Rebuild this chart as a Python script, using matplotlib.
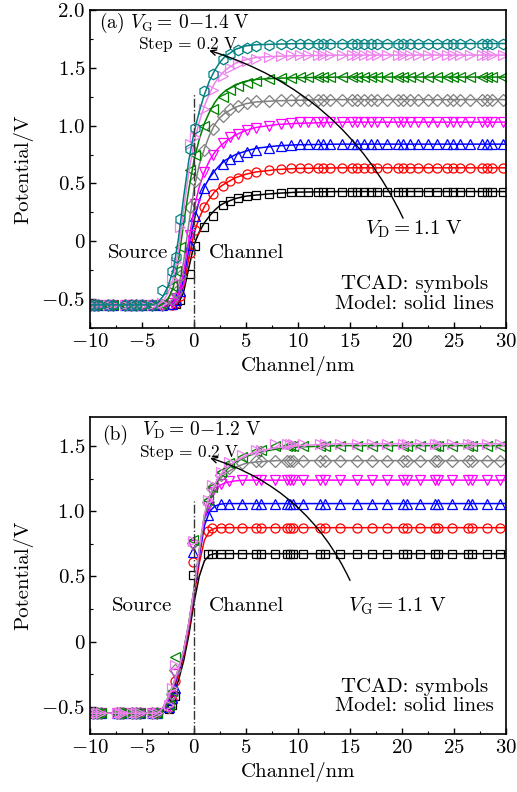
import matplotlib
matplotlib.use("Agg")
import matplotlib.pyplot as plt
import matplotlib.ticker as mticker
import numpy as np

plt.rcParams["font.family"] = "serif"
plt.rcParams["font.serif"] = ["cmr10"]
plt.rcParams["mathtext.fontset"] = "cm"
plt.rcParams["axes.formatter.use_mathtext"] = True

colors = ["black", "#ff0000", "#0000ff", "#ff00ff", "#808080", "#008000", "#ee82ee", "#008080"]
markers = ["s", "o", "^", "v", "D", "<", ">", "h"]
msizes = [6, 6.5, 7, 7, 6, 7, 7, 7.5]

# model grid (both panels)
xm = [-10, -4.5, -4, -3.5, -3, -2.5, -2, -1.5, -1, -0.5, 0, 0.5, 1, 1.5, 2, 2.5, 3, 4, 5, 6, 8, 10, 14, 30]

# ---- panel (a): VG = 0 ... 1.4 V, VD = 1.1 V
model_a = [
    [-0.55, -0.55, -0.55, -0.55, -0.55, -0.55, -0.55, -0.54, -0.44, -0.23, -0.03, 0.08, 0.16, 0.22, 0.27, 0.31, 0.335, 0.37, 0.39, 0.40, 0.415, 0.425, 0.43, 0.43],
    [-0.55, -0.55, -0.55, -0.55, -0.55, -0.55, -0.55, -0.52, -0.39, -0.15, 0.07, 0.20, 0.30, 0.37, 0.43, 0.47, 0.50, 0.55, 0.58, 0.60, 0.62, 0.63, 0.635, 0.635],
    [-0.55, -0.55, -0.55, -0.55, -0.55, -0.55, -0.54, -0.49, -0.33, -0.07, 0.18, 0.35, 0.47, 0.55, 0.61, 0.66, 0.70, 0.75, 0.78, 0.805, 0.825, 0.835, 0.84, 0.84],
    [-0.55, -0.55, -0.55, -0.55, -0.55, -0.55, -0.53, -0.46, -0.27, 0.01, 0.28, 0.47, 0.60, 0.70, 0.77, 0.82, 0.86, 0.92, 0.96, 0.985, 1.01, 1.02, 1.03, 1.03],
    [-0.55, -0.55, -0.55, -0.55, -0.55, -0.54, -0.50, -0.40, -0.18, 0.15, 0.45, 0.66, 0.80, 0.92, 1.01, 1.07, 1.11, 1.16, 1.19, 1.205, 1.215, 1.22, 1.225, 1.225],
    [-0.55, -0.55, -0.55, -0.55, -0.54, -0.50, -0.40, -0.17, 0.15, 0.45, 0.70, 0.88, 1.02, 1.12, 1.20, 1.26, 1.30, 1.355, 1.385, 1.40, 1.41, 1.415, 1.42, 1.42],
    [-0.55, -0.55, -0.55, -0.55, -0.52, -0.45, -0.32, -0.08, 0.27, 0.60, 0.85, 1.03, 1.17, 1.28, 1.37, 1.43, 1.48, 1.54, 1.57, 1.59, 1.60, 1.605, 1.61, 1.61],
    [-0.55, -0.55, -0.55, -0.53, -0.48, -0.39, -0.25, 0.02, 0.38, 0.70, 0.94, 1.12, 1.27, 1.39, 1.48, 1.55, 1.60, 1.66, 1.69, 1.70, 1.705, 1.71, 1.71, 1.71],
]
src_a = -0.55
x_a_src = [-10.0, -9.6, -9.2, -8.3, -7.8, -6.6, -6.1, -5.6, -5.0]
x_a_tr = [-4.0, -3.1, -2.1, -1.7, -1.3, -0.4, 0.1, 1.0, 1.8, 2.8, 3.5, 4.2, 5.1, 6.0, 7.2, 8.4, 9.3]
x_a_tail = [10.2, 11.0, 11.9, 12.4, 13.1, 14.2, 15.2, 15.7, 16.3, 17.0, 17.6, 18.6, 19.6, 20.1,
            20.8, 21.5, 22.5, 23.4, 24.3, 24.9, 25.6, 26.5, 27.7, 28.2, 28.7, 29.7]
tcad_a_tr = [
    [-0.55, -0.55, -0.55, -0.54, -0.51, -0.28, -0.04, 0.12, 0.22, 0.31, 0.35, 0.37, 0.39, 0.40, 0.41, 0.42, 0.425],
    [-0.55, -0.55, -0.55, -0.53, -0.47, -0.10, 0.10, 0.30, 0.41, 0.48, 0.52, 0.55, 0.585, 0.60, 0.615, 0.625, 0.63],
    [-0.55, -0.55, -0.54, -0.51, -0.43, -0.03, 0.22, 0.46, 0.58, 0.67, 0.71, 0.74, 0.77, 0.79, 0.81, 0.825, 0.835],
    [-0.55, -0.55, -0.53, -0.49, -0.38, 0.05, 0.32, 0.60, 0.75, 0.85, 0.90, 0.93, 0.96, 0.98, 1.00, 1.015, 1.025],
    [-0.55, -0.55, -0.50, -0.44, -0.30, 0.30, 0.52, 0.79, 0.97, 1.08, 1.14, 1.17, 1.195, 1.21, 1.215, 1.22, 1.225],
    [-0.55, -0.54, -0.39, -0.26, -0.05, 0.62, 0.75, 1.00, 1.14, 1.25, 1.31, 1.34, 1.37, 1.39, 1.40, 1.41, 1.415],
    [-0.55, -0.53, -0.33, -0.18, 0.12, 0.84, 0.90, 1.14, 1.31, 1.43, 1.50, 1.53, 1.56, 1.58, 1.595, 1.60, 1.61],
    [-0.55, -0.42, -0.26, -0.14, 0.19, 0.80, 0.98, 1.30, 1.45, 1.58, 1.62, 1.65, 1.67, 1.69, 1.70, 1.705, 1.71],
]
plateau_a = [0.43, 0.635, 0.84, 1.03, 1.225, 1.42, 1.61, 1.71]

# ---- panel (b): VD = 0 ... 1.2 V, VG = 1.1 V
model_b = [
    [-0.55, -0.55, -0.55, -0.55, -0.54, -0.49, -0.41, -0.30, -0.15, 0.05, 0.30, 0.50, 0.62, 0.665, 0.675, 0.675, 0.675, 0.675, 0.675, 0.675, 0.675, 0.675, 0.675, 0.675],
    [-0.55, -0.55, -0.55, -0.55, -0.53, -0.47, -0.38, -0.26, -0.11, 0.09, 0.35, 0.60, 0.78, 0.85, 0.87, 0.875, 0.875, 0.875, 0.875, 0.875, 0.875, 0.875, 0.875, 0.875],
    [-0.55, -0.55, -0.55, -0.55, -0.52, -0.46, -0.36, -0.24, -0.09, 0.12, 0.38, 0.65, 0.89, 1.00, 1.04, 1.055, 1.06, 1.06, 1.06, 1.06, 1.06, 1.06, 1.06, 1.06],
    [-0.55, -0.55, -0.55, -0.55, -0.52, -0.45, -0.35, -0.22, -0.08, 0.13, 0.39, 0.68, 0.94, 1.08, 1.16, 1.20, 1.22, 1.235, 1.24, 1.24, 1.24, 1.24, 1.24, 1.24],
    [-0.55, -0.55, -0.55, -0.55, -0.51, -0.44, -0.34, -0.22, -0.07, 0.14, 0.40, 0.69, 0.96, 1.10, 1.19, 1.25, 1.29, 1.34, 1.37, 1.38, 1.39, 1.39, 1.39, 1.39],
    [-0.55, -0.55, -0.55, -0.55, -0.51, -0.43, -0.33, -0.21, -0.07, 0.14, 0.40, 0.70, 0.97, 1.11, 1.20, 1.27, 1.31, 1.38, 1.42, 1.45, 1.48, 1.495, 1.505, 1.505],
    [-0.55, -0.55, -0.55, -0.55, -0.51, -0.43, -0.33, -0.21, -0.07, 0.14, 0.40, 0.70, 0.98, 1.12, 1.21, 1.28, 1.32, 1.39, 1.43, 1.46, 1.49, 1.505, 1.52, 1.52],
]
src_b = -0.55
x_b_src = [-9.7, -9.3, -8.9, -7.4, -7.1, -6.8, -6.0, -5.6, -5.2, -4.0, -3.6]
x_b_tr = [-2.4, -2.1, -1.8, -0.1, 1.3, 1.7, 2.6, 3.4, 4.6, 6.0, 6.4]
x_b_tail = [7.8, 8.9, 9.2, 9.5, 10.5, 12.1, 12.6, 14.0, 15.7, 17.1, 18.6, 20.1, 20.5, 21.7,
            23.2, 23.5, 24.8, 26.3, 26.7, 28.2, 29.4]
tcad_b_tr = [
    [-0.52, -0.49, -0.42, 0.51, 0.67, 0.675, 0.675, 0.675, 0.675, 0.675, 0.675],
    [-0.51, -0.45, -0.30, 0.61, 0.85, 0.87, 0.875, 0.875, 0.875, 0.875, 0.875],
    [-0.50, -0.43, -0.36, 0.69, 0.97, 1.04, 1.055, 1.06, 1.06, 1.06, 1.06],
    [-0.50, -0.42, -0.25, 0.74, 1.04, 1.15, 1.21, 1.23, 1.24, 1.24, 1.24],
    [-0.50, -0.40, -0.22, 0.76, 1.07, 1.18, 1.28, 1.33, 1.37, 1.385, 1.39],
    [-0.49, -0.38, -0.12, 0.78, 1.09, 1.19, 1.30, 1.37, 1.42, 1.46, 1.47],
    [-0.49, -0.36, -0.18, 0.77, 1.09, 1.20, 1.30, 1.38, 1.43, 1.47, 1.475],
]
plateau_b = [0.675, 0.875, 1.06, 1.24, 1.39, 1.505, 1.52]

FS = 15


def ytick_fmt(v, pos):
    return "$0$" if abs(v) < 1e-9 else f"${v:.1f}$"


def xtick_fmt(v, pos):
    return f"${v:g}$"


def draw_panel(ax, model, src, x_src, x_tr, x_tail, tcad_tr, plateau, ylim, ymajor):
    for i in range(len(model)):
        x = np.concatenate([x_src, x_tr, x_tail])
        y = np.concatenate([[src] * len(x_src), tcad_tr[i], [plateau[i]] * len(x_tail)])
        ax.plot(x, y, linestyle="none", marker=markers[i], ms=msizes[i], mfc="none",
                mec=colors[i], mew=0.9)
        ax.plot(xm, model[i], color=colors[i], lw=1.1)
    ax.set_xlim(-10, 30)
    ax.set_ylim(*ylim)
    ax.xaxis.set_major_locator(mticker.MultipleLocator(5))
    ax.xaxis.set_minor_locator(mticker.MultipleLocator(2.5))
    ax.yaxis.set_major_locator(mticker.MultipleLocator(ymajor))
    ax.yaxis.set_minor_locator(mticker.MultipleLocator(ymajor / 2))
    ax.xaxis.set_major_formatter(mticker.FuncFormatter(xtick_fmt))
    ax.yaxis.set_major_formatter(mticker.FuncFormatter(ytick_fmt))
    ax.tick_params(which="both", direction="in", top=False, right=False, labelsize=FS)
    ax.tick_params(which="major", length=4.5, width=1)
    ax.tick_params(which="minor", length=2.5, width=0.8)
    for s in ax.spines.values():
        s.set_linewidth(1.2)
    ax.set_xlabel("Channel/nm", fontsize=FS, labelpad=4)
    ax.set_ylabel("Potential/V", fontsize=FS, labelpad=6)


fig = plt.figure(figsize=(5.17, 7.92), dpi=100)
ax1 = fig.add_axes([90 / 517, 1 - 328 / 792, 416 / 517, 318 / 792])
ax2 = fig.add_axes([90 / 517, 1 - 734 / 792, 416 / 517, 317 / 792])

draw_panel(ax1, model_a, src_a, x_a_src, x_a_tr, x_a_tail, tcad_a_tr, plateau_a, (-0.75, 2.0), 0.5)
draw_panel(ax2, model_b, src_b, x_b_src, x_b_tr, x_b_tail, tcad_b_tr, plateau_b, (-0.71, 1.725), 0.5)

# panel (a) annotations
ax1.plot([0, 0], [-0.75, 1.27], color="#333333", lw=1, linestyle="-.")
ax1.text(-9.1, 1.885, r"(a) $V_{\rm G}{=}\,0{-}1.4\ {\rm V}$", fontsize=14, va="center")
ax1.text(-0.6, 1.705, r"Step$\,{=}\,0.2\ {\rm V}$", fontsize=12.5, va="center", ha="center")
ax1.annotate("", xy=(1.45, 1.65), xytext=(20.1, 0.2),
             arrowprops=dict(arrowstyle="->", lw=1, color="black", shrinkA=0, shrinkB=0,
                             connectionstyle="arc3,rad=0.22"))
ax1.text(21.2, 0.10, r"$V_{\rm D}=1.1\ {\rm V}$", fontsize=FS, ha="center", va="center")
ax1.text(-5.4, -0.10, "Source", fontsize=FS, ha="center", va="center")
ax1.text(5.0, -0.10, "Channel", fontsize=FS, ha="center", va="center")
ax1.text(21.2, -0.455, "TCAD: symbols\nModel: solid lines", fontsize=FS, ha="center",
         va="center", linespacing=1.1)

# panel (b) annotations
ax2.plot([0, 0], [-0.71, 1.08], color="#333333", lw=1, linestyle="-.")
ax2.text(-8.8, 1.59, "(b)", fontsize=14, va="center")
ax2.text(-5.0, 1.625, r"$V_{\rm D}{=}\,0{-}1.2\ {\rm V}$", fontsize=14, va="center")
ax2.text(-0.5, 1.455, r"Step$\,{=}\,0.2\ {\rm V}$", fontsize=12.5, va="center", ha="center")
ax2.annotate("", xy=(1.55, 1.41), xytext=(15.0, 0.47),
             arrowprops=dict(arrowstyle="->", lw=1, color="black", shrinkA=0, shrinkB=0,
                             connectionstyle="arc3,rad=0.22"))
ax2.text(19.5, 0.27, r"$V_{\rm G}=1.1\ {\rm V}$", fontsize=FS, ha="center", va="center")
ax2.text(-5.0, 0.27, "Source", fontsize=FS, ha="center", va="center")
ax2.text(5.0, 0.27, "Channel", fontsize=FS, ha="center", va="center")
ax2.text(21.2, -0.42, "TCAD: symbols\nModel: solid lines", fontsize=FS, ha="center",
         va="center", linespacing=1.1)

fig.savefig("out.png", dpi=100)
